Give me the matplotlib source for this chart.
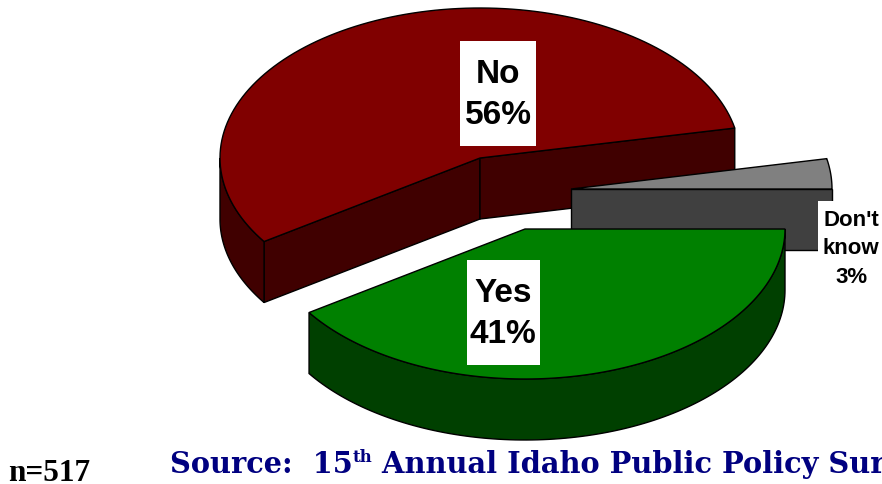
import numpy as np
import matplotlib
matplotlib.use("Agg")
import matplotlib.pyplot as plt
from matplotlib.patches import Polygon, Rectangle

# survey answers, percent (labels show them rounded)
labels = ["Yes", "No", "Don't\nknow"]
values = [40.6, 56.2, 3.2]
top_colors = ["#008000", "#800000", "#808080"]
side_colors = ["#004000", "#400000", "#404040"]

# pixel position of each exploded slice
centers = [(525, 229), (480, 158), (571, 189)]
radius_x = [260, 260, 261]
radius_y = [150, 150, 152]
depth = 61

# which straight cuts face the viewer: (start cut, end cut)
cuts = [(False, False), (True, True), (False, True)]

# white label boxes: x, y, w, h
boxes = [(467, 260, 73, 105), (460, 41, 76, 105), (818, 201, 64, 89)]
text_pos = [(503, 314), (498, 95), (851, 249)]
text_size = [24, 24, 16]

fig = plt.figure(figsize=(8.82, 4.84), dpi=100)
ax = fig.add_axes([0, 0, 1, 1])
ax.set_xlim(0, 882)
ax.set_ylim(484, 0)
ax.axis("off")


def arc(i, a0, a1):
    t = np.radians(np.linspace(a0, a1, 120))
    x = centers[i][0] + radius_x[i] * np.cos(t)
    y = centers[i][1] + radius_y[i] * np.sin(t)
    return np.column_stack([x, y])


def face(pts, color, z):
    ax.add_patch(Polygon(pts, closed=True, facecolor=color, edgecolor="black", lw=1.0, zorder=z))


def draw_slice(i, a0, a1, z):
    top = arc(i, a0, a1)
    down = np.array([0, depth])
    c = np.array(centers[i])

    # straight cut faces
    if cuts[i][0]:
        face([c, top[0], top[0] + down, c + down], side_colors[i], z)
    if cuts[i][1]:
        face([c, top[-1], top[-1] + down, c + down], side_colors[i], z)

    # outer wall, lower half of the ellipse only
    if a0 < 180:
        wall = arc(i, a0, min(a1, 180))
        face(np.vstack([wall, (wall + down)[::-1]]), side_colors[i], z)

    face(np.vstack([c, top]), top_colors[i], z + 0.5)


# slices go clockwise from 3 o'clock, which is +angle with y pointing down
angles = np.concatenate([[0], np.cumsum(values) * 3.6])
for z, i in enumerate([1, 2, 0]):
    draw_slice(i, angles[i], angles[i + 1], z + 1)

for i in range(len(values)):
    ax.add_patch(Rectangle(boxes[i][:2], boxes[i][2], boxes[i][3], facecolor="white", edgecolor="none", zorder=10))
    ax.text(text_pos[i][0], text_pos[i][1], f"{labels[i]}\n{values[i]:.0f}%", ha="center", va="center",
            family="Liberation Sans", weight="bold", fontsize=text_size[i], color="black", zorder=11,
            linespacing=1.45)

ax.text(8, 481, "n=517", family="Liberation Serif", weight="bold", fontsize=22.5, color="black", va="baseline")

navy = "#000080"
t1 = ax.text(170, 473, "Source:  15", family="DejaVu Serif", weight="bold", fontsize=20.8, color=navy, va="baseline")
t2 = ax.annotate("th", xy=(1, 0), xycoords=t1, xytext=(0, 9), textcoords="offset points",
                 family="DejaVu Serif", weight="bold", fontsize=12, color=navy, va="bottom")
ax.annotate(" Annual Idaho Public Policy Survey", xy=(1, 0), xycoords=t2, xytext=(0, -9), textcoords="offset points",
            family="DejaVu Serif", weight="bold", fontsize=20.8, color=navy, va="bottom", annotation_clip=False)

fig.savefig("out.png", dpi=100)
